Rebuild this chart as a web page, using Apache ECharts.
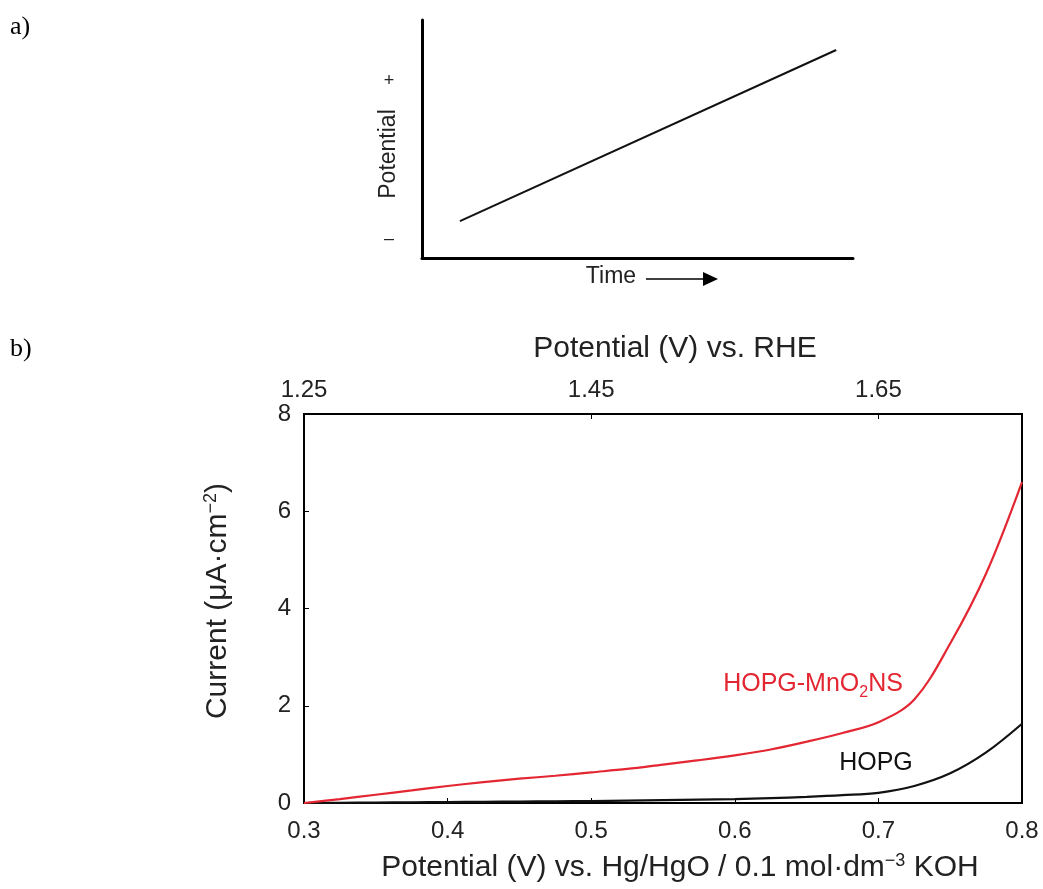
<!DOCTYPE html>
<html>
<head>
<meta charset="utf-8">
<script src="https://cdn.jsdelivr.net/npm/echarts@6/dist/echarts.min.js"></script>
<style>
html,body{margin:0;padding:0;background:#fff;}
#chart{width:1043px;height:889px;}
</style>
</head>
<body>
<div id="chart"></div>
<script>
// ---------- data ----------
// panel a: schematic linear sweep (normalised time / potential)
const sweepTime = [0.088, 0.961];
const sweepPotential = [0.155, 0.874];

// panel b: potential vs Hg/HgO (V)
const potentialHgO = [0.30,0.325,0.35,0.375,0.40,0.425,0.45,0.475,0.50,0.525,0.55,0.575,0.60,0.625,0.65,0.675,0.70,0.725,0.75,0.775,0.80];
// current density (uA/cm2)
const currentMnO2 = [0.00,0.08,0.17,0.26,0.35,0.43,0.50,0.56,0.63,0.70,0.79,0.88,0.98,1.10,1.26,1.44,1.66,2.13,3.28,4.72,6.60];
const currentHOPG = [0.00,0.005,0.01,0.015,0.02,0.025,0.03,0.035,0.04,0.05,0.06,0.07,0.08,0.10,0.125,0.16,0.21,0.35,0.61,1.04,1.63];

// tick labels
const hgoTicks = [0.3,0.4,0.5,0.6,0.7,0.8];
const rheTicks = [1.25,1.45,1.65];
const currentTicks = [0,2,4,6,8];

const FONT = "'Liberation Sans', Arial, sans-serif";
const TXT = '#222';

const chart = echarts.init(document.getElementById('chart'));

function pairs(xs, ys){ return xs.map((x,i)=>[x, ys[i]]); }

const option = {
  backgroundColor: '#fff',
  animation: false,
  grid: [
    {left: 422, top: 20, width: 431, height: 238, show: false},
    {left: 304, top: 414, width: 718, height: 389, show: true, borderColor: '#000', borderWidth: 2, backgroundColor: 'transparent'}
  ],
  xAxis: [
    {gridIndex: 0, type: 'value', min: 0, max: 1, position: 'bottom',
     axisLine: {show: true, onZero: false, lineStyle: {color: '#000', width: 3}},
     axisTick: {show: false}, axisLabel: {show: false}, splitLine: {show: false}},
    {gridIndex: 1, type: 'value', min: 0.3, max: 0.8, position: 'bottom',
     axisLine: {show: true, onZero: false, lineStyle: {color: '#000', width: 2}},
     axisTick: {show: true, inside: true, length: 5, customValues: hgoTicks, lineStyle: {color: '#000', width: 1}},
     axisLabel: {show: true, customValues: hgoTicks, margin: 16, fontFamily: FONT, fontSize: 24, color: TXT,
                 formatter: v => v.toFixed(1)},
     splitLine: {show: false}},
    {gridIndex: 1, type: 'value', min: 1.25, max: 1.75, position: 'top',
     axisLine: {show: true, onZero: false, lineStyle: {color: '#000', width: 2}},
     axisTick: {show: true, inside: true, length: 5, customValues: rheTicks, lineStyle: {color: '#000', width: 1}},
     axisLabel: {show: true, customValues: rheTicks, margin: 12, fontFamily: FONT, fontSize: 24, color: TXT,
                 formatter: v => v.toFixed(2)},
     splitLine: {show: false}}
  ],
  yAxis: [
    {gridIndex: 0, type: 'value', min: 0, max: 1,
     axisLine: {show: true, onZero: false, lineStyle: {color: '#000', width: 3}},
     axisTick: {show: false}, axisLabel: {show: false}, splitLine: {show: false}},
    {gridIndex: 1, type: 'value', min: 0, max: 8, interval: 2,
     axisLine: {show: true, onZero: false, lineStyle: {color: '#000', width: 2}},
     axisTick: {show: true, inside: true, length: 5, customValues: currentTicks, lineStyle: {color: '#000', width: 1}},
     axisLabel: {show: true, customValues: currentTicks, margin: 13, fontFamily: FONT, fontSize: 24, color: TXT},
     splitLine: {show: false}}
  ],
  series: [
    {type: 'line', xAxisIndex: 0, yAxisIndex: 0, data: pairs(sweepTime, sweepPotential),
     showSymbol: false, lineStyle: {color: '#111', width: 2}},
    {type: 'line', xAxisIndex: 1, yAxisIndex: 1, data: pairs(potentialHgO, currentHOPG),
     showSymbol: false, smooth: 0.35, lineStyle: {color: '#111', width: 2.2}},
    {type: 'line', xAxisIndex: 1, yAxisIndex: 1, data: pairs(potentialHgO, currentMnO2),
     showSymbol: false, smooth: 0.35, lineStyle: {color: '#e32631', width: 2.2}}
  ],
  graphic: [
    {type: 'text', left: 10, top: 14, style: {text: 'a)', font: "26px 'Liberation Serif', 'Times New Roman', serif", fill: '#000'}},
    {type: 'text', left: 10, top: 336, style: {text: 'b)', font: "26px 'Liberation Serif', 'Times New Roman', serif", fill: '#000'}},
    // panel a texts
    {type: 'text', x: 389, y: 154, rotation: Math.PI/2,
     style: {text: 'Potential', font: "23px " + FONT, fill: TXT, align: 'center', verticalAlign: 'middle'}},
    {type: 'text', x: 389, y: 81, style: {text: '+', font: "18px " + FONT, fill: TXT, align: 'center', verticalAlign: 'middle'}},
    {type: 'text', x: 389, y: 239, style: {text: '\u2013', font: "18px " + FONT, fill: TXT, align: 'center', verticalAlign: 'middle'}},
    {type: 'text', x: 611, y: 277, style: {text: 'Time', font: "23px " + FONT, fill: TXT, align: 'center', verticalAlign: 'middle'}},
    {type: 'line', shape: {x1: 646, y1: 279, x2: 706, y2: 279}, style: {stroke: '#000', lineWidth: 1.5}},
    {type: 'polygon', shape: {points: [[703, 272], [718, 279], [703, 286]]}, style: {fill: '#000'}},
    // panel b titles
    {type: 'text', x: 675, y: 349, style: {text: 'Potential (V) vs. RHE', font: "30px " + FONT, fill: TXT, align: 'center', verticalAlign: 'middle'}},
    {type: 'text', x: 680, y: 868,
     style: {text: 'Potential (V) vs. Hg/HgO / 0.1 mol\u00b7dm{sup|\u22123} KOH', font: "30px " + FONT, fill: TXT,
             align: 'center', verticalAlign: 'middle', lineHeight: 32,
             rich: {sup: {fontSize: 18, fontFamily: FONT, fill: TXT, verticalAlign: 'top', lineHeight: 18}}}},
    {type: 'text', x: 218, y: 601, rotation: Math.PI/2,
     style: {text: 'Current (\u03bcA\u00b7cm{sup|\u22122})', font: "30px " + FONT, fill: TXT,
             align: 'center', verticalAlign: 'middle', lineHeight: 32,
             rich: {sup: {fontSize: 18, fontFamily: FONT, fill: TXT, verticalAlign: 'top', lineHeight: 18}}}},
    // series labels
    {type: 'text', x: 813, y: 684,
     style: {text: 'HOPG-MnO{sub|2}NS', font: "25px " + FONT, fill: '#e32631', align: 'center', verticalAlign: 'middle', lineHeight: 34,
             rich: {sub: {fontSize: 16, fontFamily: FONT, fill: '#e32631', verticalAlign: 'bottom', lineHeight: 14}}}},
    {type: 'text', x: 876, y: 763,
     style: {text: 'HOPG', font: "25px " + FONT, fill: '#111', align: 'center', verticalAlign: 'middle'}}
  ]
};
chart.setOption(option);
</script>
</body>
</html>
